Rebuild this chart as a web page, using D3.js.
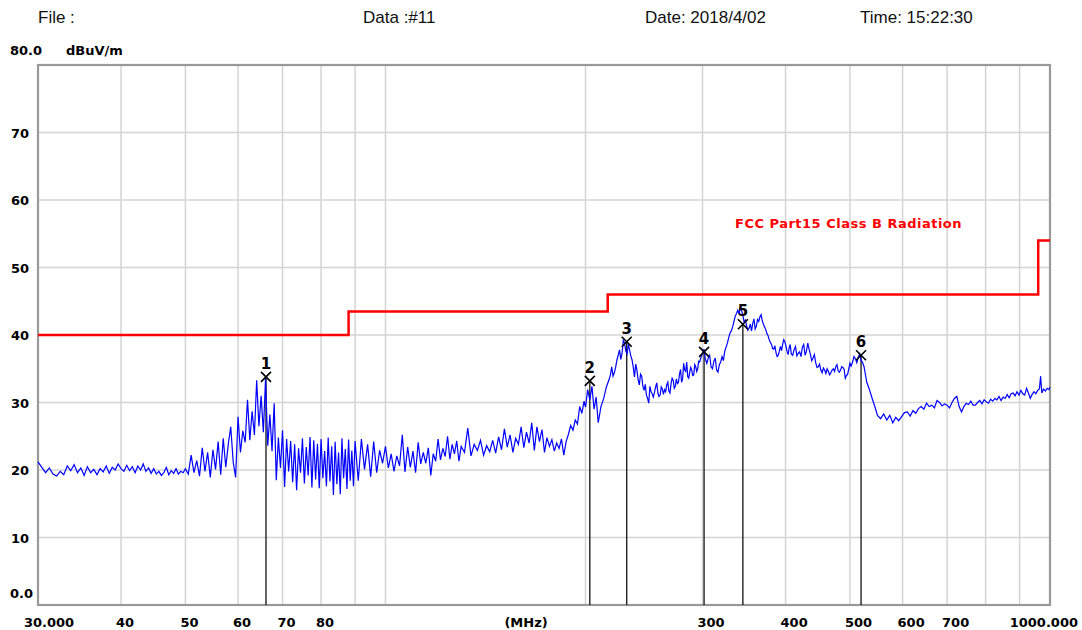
<!DOCTYPE html>
<html>
<head>
<meta charset="utf-8">
<script src="https://cdn.jsdelivr.net/npm/d3@7"></script>
<style>
  body { margin: 0; background: #fff; }
  text { font-family: "DejaVu Sans", sans-serif; }
</style>
</head>
<body>
<div id="chart"></div>
<script>
// Header texts
const headerTexts = ["File :", "Data :#11", "Date: 2018/4/02", "Time: 15:22:30"];

// Axis ticks
const levelTicks = [10, 20, 30, 40, 50, 60, 70];
const gridFreqs = [40, 50, 60, 70, 80, 90, 100, 200, 300, 400, 500, 600, 700, 800, 900];
const freqLabels = [30, 40, 50, 60, 70, 80, 300, 400, 500, 600, 700, 1000];
const freqLabelTexts = ["30.000", "40", "50", "60", "70", "80", "300", "400", "500", "600", "700", "1000.000"];

// FCC Part15 Class B limit (dBuV/m)
const limitFreqs = [30, 88, 88, 216, 216, 960, 960, 1000];
const limitLevels = [40, 40, 43.5, 43.5, 46, 46, 54, 54];

// Markers
const markerFreqs = [66.1, 203.0, 230.7, 301.6, 345.0, 519.6];
const markerLevels = [33.8, 33.2, 39.0, 37.5, 41.6, 37.0];

// Measured sweep [MHz, dBuV/m]
const sweep = [
  [30.0,21.2],[30.4,20.4],[30.8,19.6],[31.2,20.3],[31.6,19.4],[32.0,19.1],[32.4,19.8],[32.8,19.3],
  [33.2,20.6],[33.6,19.9],[34.0,20.8],[34.4,19.6],[34.8,20.3],[35.2,19.2],[35.6,20.5],[36.0,19.6],
  [36.4,20.1],[36.8,19.3],[37.2,20.2],[37.6,19.7],[38.0,20.6],[38.4,19.5],[38.8,20.4],[39.2,20.0],
  [39.6,20.9],[40.0,20.2],[40.4,19.8],[40.8,20.7],[41.2,19.9],[41.6,20.5],[42.0,19.6],[42.4,20.6],
  [42.8,20.0],[43.2,20.9],[43.6,19.8],[44.0,20.3],[44.4,19.5],[44.8,20.2],[45.2,19.4],[45.6,19.8],
  [46.0,19.2],[46.4,19.6],[46.8,20.4],[47.2,19.3],[47.6,19.9],[48.0,19.5],[48.4,20.2],[48.8,19.4],
  [49.2,19.8],[49.6,19.6],
  [50.0,20.2],[50.5,19.4],[51.0,22.2],[51.5,19.6],[52.0,21.4],[52.5,19.1],[53.0,23.3],[53.5,19.8],
  [54.0,22.6],[54.5,18.9],[55.0,23.0],[55.5,20.1],[56.0,24.2],[56.5,19.3],[57.0,24.7],[57.5,20.4],
  [58.0,23.8],[58.5,26.4],[59.0,21.2],[59.5,18.9],[60.0,27.9],[60.5,22.6],[61.0,25.8],[61.5,24.1],
  [62.0,30.4],[62.5,24.4],[63.0,28.7],[63.5,25.2],[64.0,33.3],[64.5,26.5],[65.0,31.0],[65.5,25.6],
  [66.0,33.5],[66.5,23.6],[67.0,28.2],[67.5,22.8],[68.0,29.9],[68.5,18.5],[69.0,24.8],[69.5,20.3],
  [70.0,25.9],[70.5,17.5],[71.0,24.6],[71.5,19.8],[72.0,24.3],[72.5,18.2],[73.0,23.8],[73.5,17.0],
  [74.0,23.2],[74.5,19.6],[75.0,24.7],[75.5,18.0],[76.0,23.4],[76.5,19.2],[77.0,24.9],[77.5,17.4],
  [78.0,24.4],[78.5,18.6],[79.0,23.9],[79.5,17.3],[80.0,24.6],[80.5,18.8],[81.0,22.8],[81.5,17.6],
  [82.0,24.8],[82.5,18.3],[83.0,23.5],[83.5,16.3],[84.0,24.2],[84.5,17.9],[85.0,22.6],[85.5,16.4],
  [86.0,24.7],[86.5,18.8],[87.0,23.1],[87.5,17.2],[88.0,24.5],[88.5,18.4],[89.0,22.9],[89.5,17.6],
  [90,24.3],[91,18.4],[92,24.6],[93,20.1],[94,23.8],[95,19.0],[96,24.2],[97,19.6],[98,22.9],[99,21.0],
  [100,23.5],[101,20.3],[102,22.4],[103,19.8],[104,22.1],[105,20.6],[106,25.2],[107,19.7],[108,23.4],
  [109,20.4],[110,22.8],[111,19.6],[112,24.1],[113,20.9],[114,22.6],[115,21.0],[116,23.3],[117,19.2],
  [118,22.4],[119,21.3],[120,24.6],[121,21.5],[122,23.2],[123,22.0],[124,25.0],[125,21.6],[126,23.8],
  [127,22.4],[128,24.3],[129,21.3],[130,23.5],[131.5,22.6],[133,26.2],[134.5,22.1],[136,23.8],
  [137.5,22.9],[139,24.4],[140.5,22.2],[142,23.6],[143.5,22.7],[145,24.4],[146.5,22.5],[148,24.9],
  [149.5,23.0],[151,26.1],[152.5,23.4],[154,25.2],[155.5,22.6],[157,24.7],[158.5,23.8],[160,26.4],
  [161.5,23.3],[163,25.6],[164.5,24.0],[166,27.0],[167.5,22.9],[169,26.4],[170.5,24.2],[172,26.0],
  [173.5,22.6],[175,24.8],[176.5,23.5],[178,24.5],[179.5,22.8],[181,24.0],[182.5,23.2],[184,24.6],
  [185.5,22.2],[187,24.2],[188.5,25.3],[190,26.6],[191.5,25.9],[193,27.4],[194.5,26.8],[196,29.4],
  [197.5,28.4],[199,30.2],
  [200,29.3],[201.5,31.9],[203,30.4],[204.5,32.4],[206,29.0],[207.5,30.8],[209,27.0],[211,29.4],
  [213,30.6],[215,32.3],
  [217,33.4],[218,34.1],[219,35.3],[220,33.9],[221,34.4],[222,35.2],[223,36.3],[224,37.0],[225,37.8],
  [226,36.4],[227,37.3],[228,39.2],[229,38.8],[230,37.6],[231,37.2],[232,38.6],[233,37.8],[234,36.9],
  [235,36.3],[236,35.2],[237,33.8],[238,35.7],[239,34.8],[240,33.4],[241,32.6],[242,34.2],[243,33.9],
  [244,32.4],[245,31.8],[246,32.7],[247,31.1],[248,30.6],[249,29.9],[250,32.4],[251,31.6],[252,31.3],
  [253,30.8],[254,31.5],[255,32.3],[256,32.9],[257,31.4],[258,30.9],[259,31.1],[260,32.3],[261,32.0],
  [262,31.2],[263,31.9],[264,31.6],[265,32.6],[266,33.0],[267,31.7],[268,31.4],[269,32.8],[270,33.6],
  [271,33.3],[272,32.1],[273,32.4],[274,33.5],[275,32.8],[276,33.0],[277,34.2],[278,34.9],[279,33.0],
  [280,33.5],[281,35.8],[282,34.8],[283,34.6],[284,36.0],[285,33.8],[286,33.6],[287,34.5],[288,35.2],
  [289,34.8],[290,34.0],[291,34.1],[292,35.6],[293,35.3],[294,34.6],[295,35.0],[296,36.1],[297,36.0],
  [298,36.5],[300,37.3],[301.5,37.9],[303,36.4],[304.5,35.8],[306,36.6],[307.5,37.0],[309,35.3],
  [310.5,35.0],[312,36.1],[313.5,36.6],[315,34.8],[316.5,34.5],[318,35.6],[319.5,36.0],[321,36.8],
  [322.5,36.2],[324,37.6],[325.5,38.2],[327,38.8],[328.5,39.6],[330,40.3],[331.5,40.6],[333,41.2],
  [334.5,42.0],[336,42.8],[337.5,43.2],[339,43.7],[340.5,43.1],[342,44.2],[343.5,43.6],[345,42.9],
  [346.5,41.9],[348,42.2],[349.5,41.4],[351,40.7],[352.5,41.0],[354,41.6],[355.5,40.6],[357,41.7],
  [358.5,42.4],[360,40.9],[361.5,41.3],[363,42.3],[364.5,42.0],[366,42.7],[367.5,43.0],[369,42.1],
  [370.5,41.6],[372,41.2],[373.5,40.8],[375,40.2],[376.5,39.9],[378,39.3],[379.5,38.9],[381,38.6],
  [382.5,38.0],[384,37.9],[385.5,38.4],[387,37.4],[388.5,36.8],[390,37.0],[391.5,37.6],[393,38.3],
  [394.5,37.7],[396,38.6],[397.5,39.3],[399,39.0],[400.5,38.4],[402,37.6],[403.5,37.1],[405,38.1],
  [406.5,38.6],[408,37.2],[410,37.0],[412,37.8],[414,38.3],[416,36.9],[418,37.3],[420,37.5],[422,36.8],
  [424,38.2],[426,38.6],[428,37.0],[430,37.6],[432,38.8],[434,37.9],[436,37.1],[438,36.2],[440,36.6],
  [442,37.1],[444,35.9],[446,35.2],[448,35.3],[450,35.7],[452,34.8],[454,34.4],[456,35.1],[458,34.8],
  [460,34.3],[462,35.0],[464,34.6],[466,34.1],[468,34.4],[470,34.8],[472,35.0],[474,34.6],[476,35.3],
  [478,35.6],[480,34.7],[482,34.5],[484,34.8],[486,35.3],[488,35.2],[490,34.9],[492,33.6],[494,34.0],
  [496,34.2],[498,35.0],[500,35.8],[502,35.4],[505,36.1],[507,36.8],[510,36.4],[512,35.9],[515,36.8],
  [517,37.2],[520,36.2],[522,36.0],[525,35.3],
  [530,33.0],[535,31.9],[540,30.6],[545,29.4],[550,28.1],
  [556,27.6],[562,28.3],[568,27.4],[574,28.1],[580,27.0],[586,27.8],[592,27.3],[598,27.9],[604,28.5],
  [610,28.6],[616,28.0],[622,28.8],[628,28.4],[634,29.1],[640,29.4],[646,29.0],[652,29.9],[658,29.4],
  [664,29.6],[670,29.2],[676,30.3],[682,30.0],[688,29.5],[694,29.8],[700,29.6],[706,29.2],[712,30.0],
  [718,30.6],[724,30.9],[730,29.4],[736,28.6],[742,29.4],[748,29.9],[754,29.7],[760,30.2],[766,29.6],
  [772,29.6],[778,30.0],[784,30.3],[790,29.8],[796,30.4],[802,30.1],[808,29.9],[814,30.5],[820,30.2],
  [826,30.6],[832,30.4],[838,30.9],[844,30.3],[850,30.8],[856,30.6],[862,31.2],[868,30.7],[874,31.3],
  [880,31.4],[886,31.0],[892,31.6],[898,31.1],[904,31.8],[910,31.3],[916,31.1],[922,32.1],[928,31.4],
  [934,30.6],[940,31.2],[946,31.6],[952,31.3],[958,31.8],[964,32.0],[968,33.9],[972,31.4],[978,32.0],
  [984,31.7],[990,32.1],[996,31.9],[1000,32.3]
];

// Set up dimensions
const W = 1082, H = 630;
const plot = { left: 38, right: 1050, top: 65, bottom: 605 };

const svg = d3.select("#chart")
    .append("svg")
    .attr("width", W)
    .attr("height", H);

const x = d3.scaleLog().domain([30, 1000]).range([plot.left, plot.right]);
const y = d3.scaleLinear().domain([0, 80]).range([plot.bottom, plot.top]);

// Header
const headerX = [38, 363, 645, 860];
svg.selectAll(".hdr")
    .data(headerTexts)
    .enter()
    .append("text")
    .attr("class", "hdr")
    .attr("x", (d, i) => headerX[i])
    .attr("y", 23)
    .style("font-family", "'Liberation Sans', Arial, sans-serif")
    .style("font-size", "17px")
    .style("fill", "#111")
    .text(d => d);

// Gridlines
svg.selectAll(".hgrid")
    .data(levelTicks)
    .enter()
    .append("line")
    .attr("x1", plot.left).attr("x2", plot.right)
    .attr("y1", d => y(d)).attr("y2", d => y(d))
    .style("stroke", "#d4d4d4")
    .style("stroke-width", 1.5);

svg.selectAll(".vgrid")
    .data(gridFreqs)
    .enter()
    .append("line")
    .attr("x1", d => x(d)).attr("x2", d => x(d))
    .attr("y1", plot.top).attr("y2", plot.bottom)
    .style("stroke", "#d4d4d4")
    .style("stroke-width", 1.5);

// Frame
svg.append("rect")
    .attr("x", plot.left).attr("y", plot.top)
    .attr("width", plot.right - plot.left)
    .attr("height", plot.bottom - plot.top)
    .style("fill", "none")
    .style("stroke", "#999")
    .style("stroke-width", 2.2);

// Y labels
svg.append("text").attr("x", 10).attr("y", 55)
    .style("font-size", "13px").style("font-weight", "bold").text("80.0");
svg.append("text").attr("x", 66).attr("y", 55)
    .style("font-size", "13px").style("font-weight", "bold").text("dBuV/m");

svg.selectAll(".ylab")
    .data(levelTicks)
    .enter()
    .append("text")
    .attr("x", 11)
    .attr("y", d => y(d) + 5)
    .style("font-size", "13px")
    .style("font-weight", "bold")
    .text(d => d);

svg.append("text").attr("x", 10).attr("y", y(0) - 7)
    .style("font-size", "13px").style("font-weight", "bold").text("0.0");

// X labels
svg.selectAll(".xlab")
    .data(freqLabels)
    .enter()
    .append("text")
    .attr("x", (d, i) => {
        if (i === 0) return x(d) - 14;
        if (i === freqLabels.length - 1) return x(d) + 28;
        return x(d) - 5;
    })
    .attr("text-anchor", (d, i) => i === freqLabels.length - 1 ? "end" : "start")
    .attr("y", 627)
    .style("font-size", "13px")
    .style("font-weight", "bold")
    .text((d, i) => freqLabelTexts[i]);

svg.append("text")
    .attr("x", x(151)).attr("y", 627)
    .style("font-size", "13px").style("font-weight", "bold")
    .text("(MHz)");

// Marker drop lines
svg.selectAll(".mline")
    .data(markerFreqs)
    .enter()
    .append("line")
    .attr("x1", d => x(d)).attr("x2", d => x(d))
    .attr("y1", (d, i) => y(markerLevels[i]))
    .attr("y2", plot.bottom)
    .style("stroke", "#111")
    .style("stroke-width", 1.3);

// Limit line
const limitLine = d3.line()
    .x((d, i) => x(limitFreqs[i]))
    .y(d => y(d));

svg.append("path")
    .datum(limitLevels)
    .attr("d", limitLine)
    .style("fill", "none")
    .style("stroke", "#ff0000")
    .style("stroke-width", 2.5);

svg.append("text")
    .attr("x", 735).attr("y", 228)
    .style("font-size", "13px")
    .style("font-weight", "bold")
    .style("letter-spacing", "0.5px")
    .style("fill", "#ff0000")
    .text("FCC Part15 Class B Radiation");

// Trace
const traceLine = d3.line()
    .x(d => x(d[0]))
    .y(d => y(d[1]));

svg.append("path")
    .datum(sweep)
    .attr("d", traceLine)
    .style("fill", "none")
    .style("stroke", "#0000ff")
    .style("stroke-width", 1.2);

// Marker crosses and numbers
const mk = svg.selectAll(".marker")
    .data(markerFreqs)
    .enter()
    .append("g")
    .attr("transform", (d, i) => `translate(${x(d)},${y(markerLevels[i])})`);

mk.append("path")
    .attr("d", "M-5,-5L5,5M-5,5L5,-5")
    .style("stroke", "#000")
    .style("stroke-width", 1.6);

mk.append("text")
    .attr("y", -8)
    .attr("text-anchor", "middle")
    .style("font-size", "15px")
    .style("font-weight", "bold")
    .text((d, i) => i + 1);
</script>
</body>
</html>
